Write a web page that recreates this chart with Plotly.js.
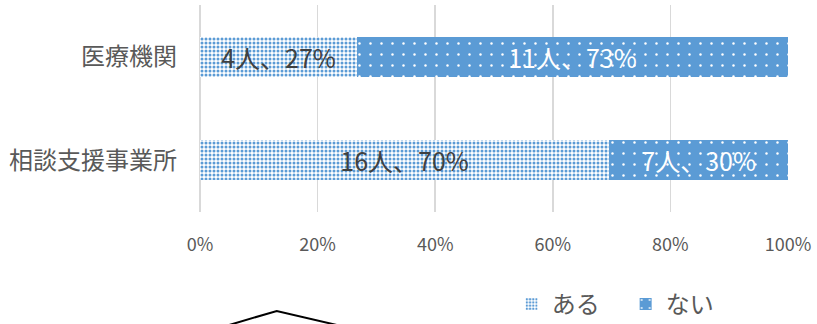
<!DOCTYPE html>
<html>
<head>
<meta charset="utf-8">
<script src="https://cdn.plot.ly/plotly-3.0.1.min.js"></script>
<style>html,body{margin:0;padding:0;background:#fff;}#chart{width:817px;height:324px;}</style>
</head>
<body>
<div id="chart"></div>
<script>
const categories = ['医療機関', '相談支援事業所'];
const seriesNames = ['ある', 'ない'];
const aruPct = [26.7, 69.6];
const naiPct = [73.3, 30.4];
const aruLabels = ['4人、27%', '16人、70%'];
const naiLabels = ['11人、73%', '7人、30%'];
const xTickVals = [0, 20, 40, 60, 80, 100];
const xTickText = ['0%', '20%', '40%', '60%', '80%', '100%'];

const FONT = '"Noto Sans CJK JP", "Noto Sans", sans-serif';
const BLUE = '#5B9BD5';

const traces = [
  {
    type: 'bar', orientation: 'h', name: seriesNames[0],
    y: categories, x: aruPct, text: aruLabels,
    textposition: 'inside', insidetextanchor: 'middle', constraintext: 'none',
    textfont: {family: FONT, size: 25, color: '#404040'},
    marker: {color: BLUE, line: {width: 0},
      pattern: {shape: '.', fgcolor: BLUE, bgcolor: '#ffffff', size: 4, solidity: 0.45}},
    hoverinfo: 'skip'
  },
  {
    type: 'bar', orientation: 'h', name: seriesNames[1],
    y: categories, x: naiPct, text: naiLabels,
    textposition: 'inside', insidetextanchor: 'middle', constraintext: 'none',
    textfont: {family: FONT, size: 25, color: '#ffffff'},
    marker: {color: BLUE, line: {width: 0},
      pattern: {shape: '.', fgcolor: '#ffffff', bgcolor: BLUE, size: 11, solidity: 0.04}},
    hoverinfo: 'skip'
  }
];

const layout = {
  width: 817, height: 324,
  margin: {l: 200, r: 29, t: 5, b: 112, autoexpand: false},
  paper_bgcolor: '#ffffff', plot_bgcolor: '#ffffff',
  barmode: 'stack', bargap: 0.61,
  font: {family: FONT, color: '#595959'},
  xaxis: {
    range: [0, 100], tickvals: xTickVals, ticktext: xTickText,
    showgrid: true, gridcolor: '#d9d9d9', gridwidth: 1.5,
    zeroline: true, zerolinecolor: '#d9d9d9', zerolinewidth: 1.5,
    showline: false, ticks: '', ticklabelstandoff: 20, automargin: false,
    tickfont: {family: FONT, size: 18, color: '#595959'}
  },
  yaxis: {
    autorange: 'reversed', showgrid: false, zeroline: false, showline: false,
    ticks: '', ticklabelstandoff: 22, automargin: false,
    tickfont: {family: FONT, size: 24, color: '#595959'}
  },
  showlegend: true,
  legend: {
    orientation: 'h', x: 0.53, xanchor: 'left',
    yref: 'container', y: 0.13, yanchor: 'top',
    entrywidth: 69, entrywidthmode: 'pixels',
    font: {family: FONT, size: 24, color: '#595959'}, traceorder: 'normal',
    bgcolor: 'rgba(0,0,0,0)'
  },
  shapes: [{
    type: 'path', xref: 'paper', yref: 'paper',
    path: 'M -0.015,-0.6 L 0.1305,-0.478 L 0.314,-0.6',
    line: {color: '#000000', width: 2}
  }]
};

Plotly.newPlot('chart', traces, layout, {staticPlot: true, displayModeBar: false});
</script>
</body>
</html>
